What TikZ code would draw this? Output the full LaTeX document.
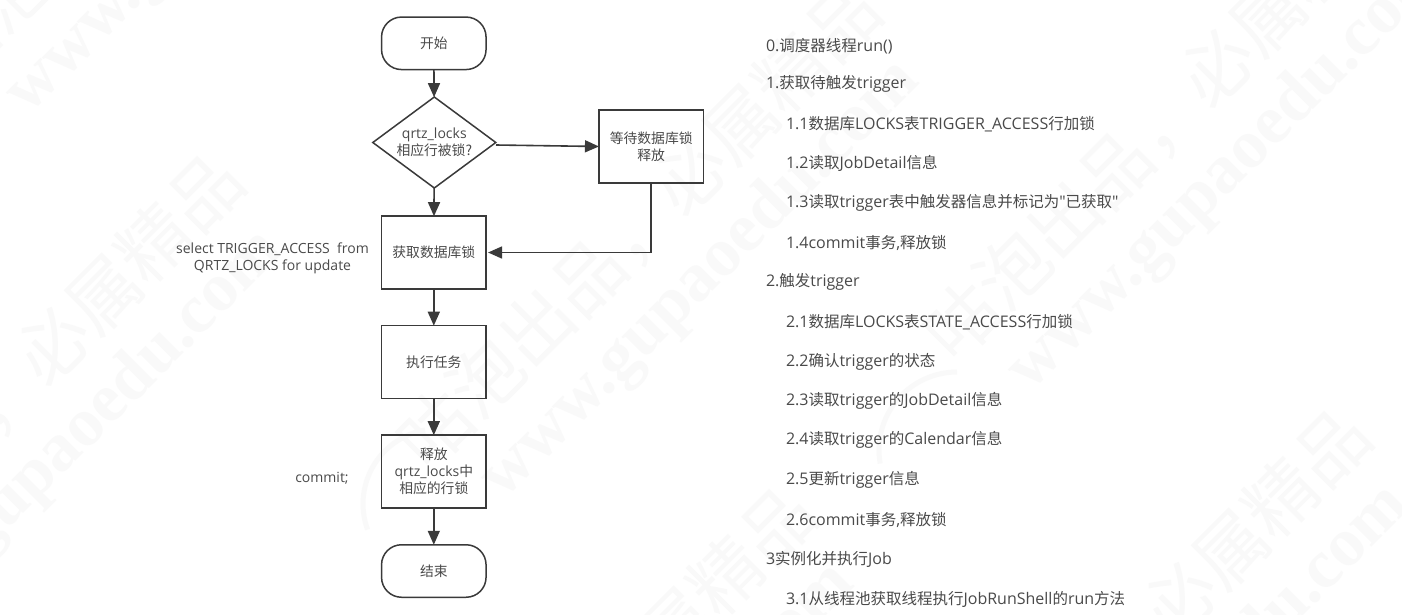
\documentclass[tikz,border=0pt]{standalone}
\usepackage{fontspec}
\setmainfont{Open Sans}
\newfontfamily\cjfam{Noto Sans CJK SC}
\newfontfamily\wmcj{Noto Sans CJK SC}
\newfontfamily\wmla{Liberation Serif}
\newfontfamily\plainq{Open Sans}
\newcommand{\cj}[1]{{\cjfam\fontsize{\cjsize}{\baselineskip}\selectfont #1}}
\newcommand{\cjsize}{13.8}
\usetikzlibrary{arrows.meta,shapes.geometric}
\definecolor{ink}{HTML}{3A3A3A}
\definecolor{txt}{HTML}{4A4A4A}
\definecolor{wmcolor}{HTML}{F9F9F9}
\tikzset{
  every node/.style={inner sep=0pt,outer sep=0pt,text=txt},
  lab/.style={font=\fontsize{14}{17}\selectfont,align=center},
  box/.style={lab,draw=ink,line width=1.5pt,minimum width=104.5pt,minimum height=72.7pt},
  term/.style={box,rounded corners=20pt,minimum height=52.5pt},
  dia/.style={lab,draw=ink,line width=1.5pt,diamond,aspect=1.35,minimum width=123pt,minimum height=91pt},
  flow/.style={draw=ink,line width=1.6pt,-{Triangle[length=14pt,width=12pt]}},
  item/.style={font=\fontsize{16}{17}\selectfont,anchor=west},
  wmone/.style={text=wmcolor,font=\fontsize{72}{72}\selectfont\wmcj,rotate=45},
  wmtwo/.style={text=wmcolor,font=\fontsize{69}{69}\selectfont\wmla\bfseries,rotate=45}
}
\begin{document}
\begin{tikzpicture}[x=1pt,y=-1pt]
\useasboundingbox (0,0) rectangle (1402,614);
\fill[white] (0,0) rectangle (1402,614);
% watermark
\foreach \n/\mx/\my in {a/53/345,b/690/175,c/1217/67,d/1180/600,e/625/678,f/215/-210} {
  \node[wmone] (wm1\n) at (\mx-51,\my+51) {咕泡出品，必属精品};
  \node[wmtwo] (wm2\n) at (\mx+11,\my+105) {www.gupaoedu.com};
}
\draw[wmcolor,line width=5pt] (425,430) arc[start angle=-100,end angle=-200,radius=75];
\draw[wmcolor,line width=5pt] (957,372) arc[start angle=-90,end angle=-190,radius=78];
% nodes
\node[term] (start) at (433.8,43.3) {\cj{开始}};
\node[dia] (dec) at (434.3,142.5) {qrtz\_locks\\\cj{相应行被锁?}};
\node[box] (wait) at (651.2,146.5) {\cj{等待数据库锁}\\\cj{释放}};
\node[box] (get) at (433.8,252.5) {\cj{获取数据库锁}};
\node[box] (run) at (433.8,362) {\cj{执行任务}};
\node[box] (rel) at (433.8,471.5) {\cj{释放}\\qrtz\_locks\cj{中}\\\cj{相应的行锁}};
\node[term] (end) at (433.8,571) {\cj{结束}};
\node[lab] (sel) at (272.5,258.5) {select TRIGGER\_ACCESS~~from\\QRTZ\_LOCKS for update};
\node[lab] (com) at (322,478) {commit;};
% connectors
\coordinate (g1) at (496,145);
\draw[flow] (start) -- (dec);
\draw[flow] (dec) -- (get);
\draw[flow] (get) -- (run);
\draw[flow] (run) -- (rel);
\draw[flow] (rel) -- (end);
\draw[flow] (g1) -- (wait.west);
\draw[flow,shorten >=2pt] (wait.south) |- (get.east);
% list
\renewcommand{\cjsize}{15.5}
\foreach \n/\x/\y/\t in {
 l0/766/46/{0.\cj{调度器线程}run()},
 l1/766/84/{1.\cj{获取待触发}trigger},
 l2/786/124/{1.1\cj{数据库}LOCKS\cj{表}TRIGGER\_ACCESS\cj{行加锁}},
 l3/786/163/{1.2\cj{读取}JobDetail\cj{信息}},
 l4/786/203/{1.3\cj{读取}trigger\cj{表中触发器信息并标记为}{\plainq"}\cj{已获取}{\plainq"}},
 l5/786/243/{1.4commit\cj{事务},\cj{释放锁}},
 l6/766/282/{2.\cj{触发}trigger},
 l7/786/322/{2.1\cj{数据库}LOCKS\cj{表}STATE\_ACCESS\cj{行加锁}},
 l8/786/362/{2.2\cj{确认}trigger\cj{的状态}},
 l9/786/401/{2.3\cj{读取}trigger\cj{的}JobDetail\cj{信息}},
 l10/786/440/{2.4\cj{读取}trigger\cj{的}Calendar\cj{信息}},
 l11/786/480/{2.5\cj{更新}trigger\cj{信息}},
 l12/786/520/{2.6commit\cj{事务},\cj{释放锁}},
 l13/766/559/{3\cj{实例化并执行}Job},
 l14/786/599/{3.1\cj{从线程池获取线程执行}JobRunShell\cj{的}run\cj{方法}}}
 {\node[item] (\n) at (\x,\y) {\t};}
\end{tikzpicture}
\end{document}
